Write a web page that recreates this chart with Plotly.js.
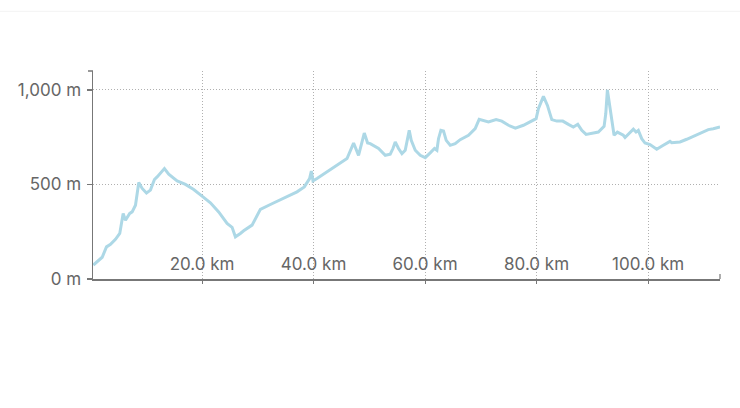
<!DOCTYPE html>
<html>
<head>
<meta charset="utf-8">
<script src="https://cdn.plot.ly/plotly-3.0.1.min.js"></script>
<style>
html,body{margin:0;padding:0;background:#fff;}
#chart{width:740px;height:408px;}
</style>
</head>
<body>
<div id="chart"></div>
<script>
// distance along route (km)
const distanceKm = [0.5, 2.09, 2.86, 3.58, 4.47, 5.24, 5.85, 6.26, 7.03, 7.46, 8.06, 8.65, 9.26, 10.03, 10.74,
  11.46, 11.94, 12.54, 13.25, 14.02, 15.53, 17.02, 18.5, 20.0, 21.5, 22.98, 24.49, 25.39, 25.98, 26.87,
  27.46, 28.97, 30.46, 32.25, 34.63, 37.03, 38.34, 39.29, 39.6, 39.9, 40.62, 42.41, 44.2, 46.0, 47.18,
  48.07, 49.1, 49.69, 50.17, 51.66, 52.86, 53.75, 54.24, 54.65, 55.24, 55.85, 56.44, 56.75, 57.16,
  57.52, 58.24, 59.13, 60.03, 60.92, 61.69, 62.12, 62.41, 62.84, 63.31, 63.79, 64.51, 65.4, 66.3,
  67.79, 68.99, 69.7, 71.37, 72.75, 73.77, 74.96, 76.2, 77.64, 78.84, 79.92, 80.33, 81.23, 81.95,
  82.73, 83.63, 84.7, 85.71, 86.6, 87.39, 88.11, 88.88, 89.9, 91.08, 92.11, 92.41, 92.7, 93.18, 93.9,
  94.49, 95.56, 95.87, 96.97, 97.36, 97.84, 98.25, 98.86, 99.45, 100.35, 101.55, 102.73, 103.63,
  103.93, 104.24, 105.73, 106.93, 108.41, 109.9, 110.8, 111.69, 112.9];
// elevation (m)
const elevationM = [74, 115, 170, 183, 210, 241, 347, 311, 347, 355, 390, 510, 479, 455, 470,
  526, 540, 558, 584, 554, 519, 500, 473, 438, 403, 355, 294, 273, 223, 241,
  255, 285, 368, 394, 426, 461, 487, 531, 571, 519, 531, 566, 598, 637, 719,
  654, 772, 719, 716, 690, 654, 660, 690, 725, 690, 663, 681, 733, 786,
  733, 681, 654, 642, 667, 690, 681, 742, 786, 783, 733, 707, 716, 737,
  760, 795, 844, 830, 843, 835, 813, 798, 813, 830, 848, 901, 966, 918,
  843, 835, 835, 818, 804, 818, 786, 765, 769, 777, 807, 874, 1000, 909, 760,
  777, 760, 748, 783, 792, 777, 786, 742, 719, 711, 686, 707, 721,
  728, 721, 725, 739, 760, 777, 790, 795, 804];
// axis ticks
const xTickVals = [20, 40, 60, 80, 100];
const xTickText = ["20.0 km", "40.0 km", "60.0 km", "80.0 km", "100.0 km"];
const yTickVals = [0, 500, 1000];
const yTickText = ["0 m", "500 m", "1,000 m"];

const axisColor = "#777";
const gridColor = "#b0b0b0";
const font = {family: "Inter, 'Noto Sans', sans-serif", size: 17, color: "#666"};

const trace = {
  x: distanceKm, y: elevationM, type: "scatter", mode: "lines",
  line: {color: "#add8e6", width: 3, shape: "linear"},
  hoverinfo: "skip"
};

const layout = {
  width: 740, height: 408,
  margin: {l: 92.5, r: 20, t: 70.7, b: 129},
  paper_bgcolor: "#fff", plot_bgcolor: "#fff",
  showlegend: false,
  font: font,
  xaxis: {
    range: [0.44, 112.9],
    tickmode: "array", tickvals: xTickVals, ticktext: xTickText,
    ticklabelposition: "outside", ticklabelstandoff: -34,
    ticks: "outside", ticklen: 3, tickcolor: axisColor, tickwidth: 1,
    showline: true, linecolor: axisColor, linewidth: 1.5,
    showgrid: true, gridcolor: gridColor, griddash: "1px,2px", gridwidth: 1,
    zeroline: false, tickfont: font
  },
  yaxis: {
    range: [0, 1100],
    tickmode: "array", tickvals: yTickVals, ticktext: yTickText,
    ticks: "outside", ticklen: 5, tickcolor: axisColor, tickwidth: 1.2,
    ticklabelstandoff: 2,
    showline: true, linecolor: axisColor, linewidth: 1.5,
    showgrid: true, gridcolor: gridColor, griddash: "1px,2px", gridwidth: 1,
    zeroline: false, tickfont: font
  },
  shapes: [
    {type: "line", xref: "paper", yref: "paper", xsizemode: "pixel", xanchor: 0,
     x0: -5, x1: 0, y0: 1, y1: 1, line: {color: axisColor, width: 1.5}},
    {type: "line", xref: "paper", yref: "paper", ysizemode: "pixel", yanchor: 0,
     x0: 1, x1: 1, y0: 0, y1: 5, line: {color: axisColor, width: 1.2}},
    {type: "line", xref: "paper", yref: "paper", x0: -0.2, x1: 1.1, y0: 1.287, y1: 1.287,
     line: {color: "#f3f3f3", width: 1}}
  ]
};

Plotly.newPlot("chart", [trace], layout, {displayModeBar: false, staticPlot: true});
</script>
</body>
</html>
